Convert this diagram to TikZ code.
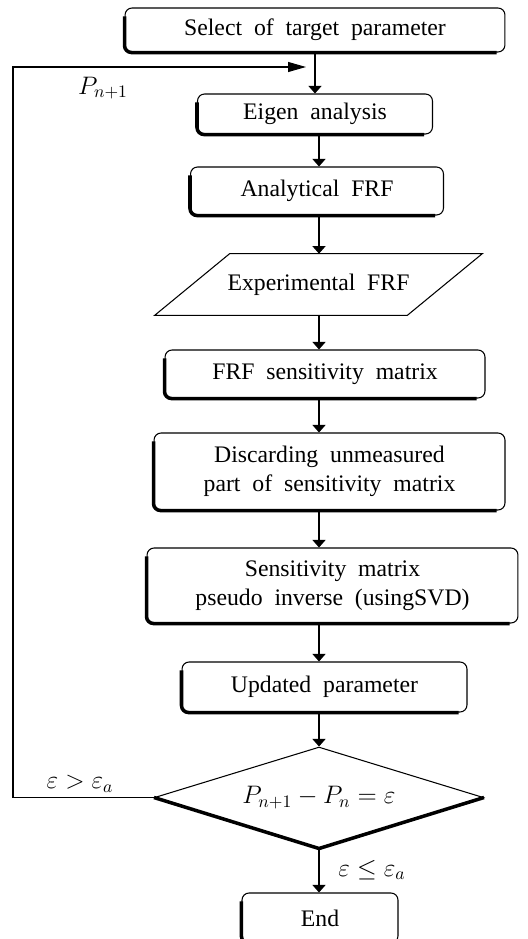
\documentclass[tikz,border=0pt]{standalone}
\usepackage{fontspec}
\setmainfont{Liberation Serif}
\usepackage{tikz}
\usetikzlibrary{shapes.geometric, arrows.meta, calc}
\newcommand{\flowfont}{\fontsize{13.5}{16.5}\selectfont\spaceskip=.5em\relax}
\tikzstyle{flowbox} = [rectangle, draw, line width=0.6pt, rounded corners=4pt,
                       text centered, align=center, inner sep=2pt, font=\flowfont]
\tikzstyle{arrow}   = [-{Triangle[length=1.5mm, width=2.6mm]}, line width=0.6pt]

\begin{document}
\begin{tikzpicture}[
  x=0.02cm, y=-0.02cm,
  iobox/.style={rectangle, inner sep=2pt, align=center, font=\flowfont},
  decision/.style={diamond, draw, line width=0.6pt, aspect=3.2, inner sep=0pt,
                   font=\fontsize{14}{16}\selectfont},
  heavy/.style={line width=2pt, rounded corners=4pt},
  loop arrow/.style={-{Triangle[length=3.6mm, width=2mm]}, line width=0.6pt},
  lbl/.style={font=\fontsize{14}{16}\selectfont}
]
  \useasboundingbox (0,0) rectangle (527,939);

  % Process steps
  \node[flowbox, minimum width=7.6cm, minimum height=0.88cm] (select) at (315,30) {Select of target parameter};
  \node[flowbox, minimum width=4.7cm, minimum height=0.8cm] (eigen) at (315,114) {Eigen analysis};
  \node[flowbox, minimum width=5.06cm, minimum height=0.96cm] (anafrf) at (317,191) {Analytical FRF};
  \node[iobox, minimum width=6.54cm, minimum height=1.22cm] (expfrf) at (318.5,284.5) {Experimental FRF};
  \node[flowbox, minimum width=6.4cm, minimum height=0.96cm] (sensfrf) at (325,374) {FRF sensitivity matrix};
  \node[flowbox, minimum width=7.02cm, minimum height=1.54cm] (discard) at (329.5,471.5) {Discarding unmeasured\\part of sensitivity matrix};
  \node[flowbox, minimum width=7.42cm, minimum height=1.5cm] (pinv) at (332.5,585.5) {Sensitivity matrix\\pseudo inverse (usingSVD)};
  \node[flowbox, minimum width=5.7cm, minimum height=1.0cm] (update) at (324.5,687) {Updated parameter};
  \node[decision, minimum width=6.58cm, minimum height=2.02cm] (check) at (319,797.5) {$P_{n+1}-P_n=\varepsilon$};
  \node[flowbox, minimum width=3.12cm, minimum height=1.0cm] (stop) at (320,918) {End};

  % Parallelogram for the measured data
  \draw[line width=0.6pt] ([xshift=1.5cm]expfrf.north west) -- (expfrf.north east)
    -- ([xshift=-1.5cm]expfrf.south east) -- (expfrf.south west) -- cycle;

  % Shadow edges
  \foreach \b in {select,eigen,anafrf,sensfrf,discard,pinv,update,stop}
    \draw[heavy] ([yshift=-5pt]\b.north west) -- (\b.south west) -- ([xshift=-5pt]\b.south east);
  \draw[line width=2pt, line join=round] (check.west) -- (check.south) -- (check.east);

  % Flow
  \coordinate (axis) at (319,0);
  \draw[arrow] (select.south) -- (eigen.north);
  \draw[arrow] (eigen.south -| axis) -- (anafrf.north -| axis);
  \draw[arrow] (anafrf.south -| axis) -- (expfrf.north -| axis);
  \draw[arrow] (expfrf.south -| axis) -- (sensfrf.north -| axis);
  \draw[arrow] (sensfrf.south -| axis) -- (discard.north -| axis);
  \draw[arrow] (discard.south -| axis) -- (pinv.north -| axis);
  \draw[arrow] (pinv.south -| axis) -- (update.north -| axis);
  \draw[arrow] (update.south -| axis) -- (check.north -| axis);
  \draw[arrow] (check.south -| axis) -- (stop.north -| axis);
  \node[lbl] (pass) at (372,870) {$\varepsilon\leq\varepsilon_a$};

  % Feedback loop
  \coordinate (corner) at (13,67);
  \coordinate (back) at (306,67);
  \draw[loop arrow] (check.west) -| (corner) -- (back);
  \node[lbl] (pnext) at (103,88) {$P_{n+1}$};
  \node[lbl] (fail) at (80,784) {$\varepsilon > \varepsilon_a$};

\end{tikzpicture}
\end{document}
